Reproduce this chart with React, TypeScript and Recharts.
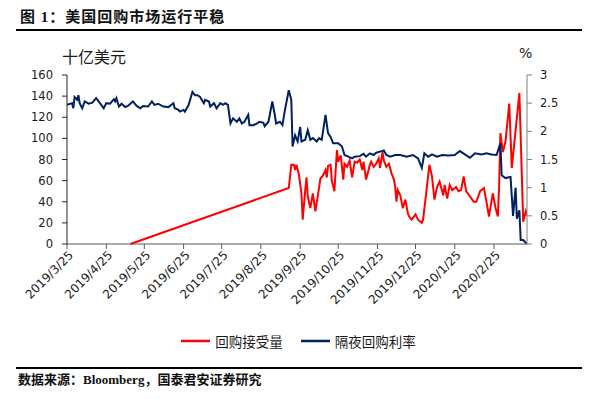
import React from 'react';
import { LineChart, Line, XAxis, YAxis, Legend } from 'recharts';

// x positions are day offsets from 2019/3/25
const xTickDays = [0, 31, 61, 92, 122, 153, 184, 214, 245, 275, 306, 337];
const xTickLabels = ['2019/3/25', '2019/4/25', '2019/5/25', '2019/6/25', '2019/7/25', '2019/8/25', '2019/9/25', '2019/10/25', '2019/11/25', '2019/12/25', '2020/1/25', '2020/2/25'];
const leftTicks = [0, 20, 40, 60, 80, 100, 120, 140, 160];
const rightTicks = [0, 0.5, 1, 1.5, 2, 2.5, 3];
const seriesNames = ['回购接受量', '隔夜回购利率'];
const seriesColors = ['#FF0000', '#002060'];

const blueDays = [0, 4, 5, 6, 8, 9, 10, 12, 14, 17, 20, 23, 26, 29, 31, 34, 37, 38, 39, 41, 43, 46, 48, 52, 55, 58, 60, 64, 67, 69, 72, 76, 80, 84, 85, 88, 89, 92, 93, 96, 99, 101, 103, 105, 108, 109, 112, 113, 116, 118, 121, 123, 125, 127, 129, 131, 134, 136, 138, 140, 143, 144, 147, 150, 152, 155, 156, 159, 162, 164, 165, 168, 170, 172, 175, 177, 178, 180, 182, 184, 185, 188, 190, 192, 194, 197, 199, 201, 204, 206, 208, 210, 214, 217, 219, 222, 225, 227, 231, 234, 236, 239, 242, 244, 247, 250, 252, 255, 259, 263, 268, 273, 277, 280, 282, 285, 288, 292, 296, 301, 306, 310, 314, 318, 322, 327, 331, 335, 339, 342, 343, 346, 350, 352, 354, 355, 357, 358, 360, 363];
const blueRate = [2.47, 2.50, 2.41, 2.61, 2.56, 2.64, 2.50, 2.41, 2.53, 2.49, 2.51, 2.59, 2.50, 2.41, 2.50, 2.49, 2.57, 2.53, 2.59, 2.44, 2.49, 2.43, 2.45, 2.53, 2.45, 2.41, 2.45, 2.44, 2.53, 2.47, 2.49, 2.44, 2.43, 2.50, 2.41, 2.38, 2.35, 2.38, 2.35, 2.47, 2.70, 2.64, 2.64, 2.61, 2.50, 2.56, 2.53, 2.44, 2.50, 2.41, 2.50, 2.47, 2.50, 2.47, 2.14, 2.23, 2.17, 2.23, 2.14, 2.17, 2.29, 2.11, 2.11, 2.14, 2.17, 2.15, 2.09, 2.17, 2.53, 2.29, 2.14, 2.17, 2.11, 2.38, 2.73, 2.56, 1.73, 1.93, 1.82, 2.08, 1.82, 1.85, 2.02, 1.85, 1.88, 1.82, 1.88, 1.85, 2.29, 1.97, 1.90, 1.79, 1.79, 1.73, 1.58, 1.55, 1.52, 1.55, 1.56, 1.60, 1.55, 1.61, 1.58, 1.62, 1.64, 1.66, 1.58, 1.55, 1.58, 1.58, 1.55, 1.58, 1.52, 1.35, 1.61, 1.55, 1.59, 1.55, 1.58, 1.57, 1.58, 1.65, 1.59, 1.53, 1.61, 1.59, 1.61, 1.59, 1.58, 1.79, 1.22, 1.17, 1.19, 0.50, 1.00, 0.45, 0.60, 0.07, 0.07, 0.0];

const redDays = [50, 175, 177, 179, 180, 181, 183, 185, 186, 188, 189, 190, 192, 194, 196, 198, 200, 202, 204, 205, 206, 208, 209, 211, 213, 214, 216, 218, 219, 221, 223, 225, 227, 229, 231, 233, 234, 236, 239, 240, 242, 244, 246, 247, 249, 250, 252, 254, 255, 256, 258, 259, 260, 261, 263, 265, 267, 269, 270, 272, 275, 277, 280, 281, 284, 286, 288, 290, 292, 294, 297, 298, 300, 302, 304, 307, 309, 311, 313, 315, 318, 321, 323, 326, 329, 331, 333, 336, 338, 340, 341, 342, 344, 346, 349, 351, 357, 360, 362, 363];
const redVolume = [0, 53, 75, 75, 70, 75, 66, 48, 23, 51, 63, 45, 34, 48, 31, 46, 62, 65, 70, 63, 74, 75, 60, 50, 89, 78, 84, 61, 76, 73, 79, 63, 78, 77, 80, 70, 78, 61, 75, 78, 73, 76, 81, 72, 87, 79, 73, 76, 72, 67, 61, 54, 40, 51, 46, 34, 42, 29, 26, 23, 28, 23, 20, 23, 54, 75, 64, 42, 54, 59, 46, 56, 43, 56, 51, 54, 50, 51, 64, 50, 45, 40, 40, 50, 53, 40, 26, 48, 35, 26, 55, 105, 87, 97, 133, 72, 143, 21, 31, 27];

const redData = redDays.map((d, i) => ({ day: d, volume: redVolume[i] }));
const blueData = blueDays.map((d, i) => ({ day: d, rate: blueRate[i] }));

const XTick = (props: any) => {
  const { x, y, payload } = props;
  const idx = xTickDays.indexOf(payload.value);
  const ax = x + 4;
  const ay = y + 2;
  return (
    <text x={ax} y={ay} dy="0.35em" transform={`rotate(-45, ${ax}, ${ay})`} textAnchor="end"
      fontSize={12} fontFamily="DejaVu Sans" fill="#1a1a1a">
      {idx >= 0 ? xTickLabels[idx] : ''}
    </text>
  );
};

const renderLegend = () => (
  <div style={{ display: 'flex', justifyContent: 'center', alignItems: 'center', gap: 18, fontFamily: '"Noto Sans CJK SC"', fontSize: 13.5, lineHeight: '18px', color: '#1a1a1a' }}>
    {seriesNames.map((n, i) => (
      <div key={n} style={{ display: 'flex', alignItems: 'center' }}>
        <svg width={29} height={18}><line x1={0} y1={9} x2={29} y2={9} stroke={seriesColors[i]} strokeWidth={2.5} /></svg>
        <span style={{ marginLeft: 5 }}>{n}</span>
      </div>
    ))}
  </div>
);

export default function App() {
  return (
    <div style={{ position: 'absolute', left: 0, top: 0, width: 597, height: 399, background: '#fff', overflow: 'hidden' }}>
      <div style={{ position: 'absolute', left: 20, top: 7, fontFamily: '"Liberation Serif", "Noto Sans CJK SC"', fontWeight: 'bold', fontSize: 15, lineHeight: '20px', letterSpacing: 1, color: '#111', whiteSpace: 'nowrap' }}>
        图 1：美国回购市场运行平稳
      </div>
      <div style={{ position: 'absolute', left: 16, top: 29, width: 566, height: 1.5, background: '#000' }} />
      <div style={{ position: 'absolute', left: 0, top: 0 }}>
        <LineChart width={597} height={399} margin={{ top: 75, right: 0, bottom: 85, left: 0 }}>
          <XAxis dataKey="day" type="number" domain={[0, 363]} ticks={xTickDays} interval={0}
            allowDataOverflow tick={<XTick />} tickSize={5} tickMargin={2} height={70}
            stroke="#595959" />
          <YAxis yAxisId="left" orientation="left" domain={[0, 160]} ticks={leftTicks} interval={0}
            width={67} tickSize={5} tickMargin={9} stroke="#262626"
            tick={{ fontSize: 11.5, fontFamily: 'DejaVu Sans', fill: '#1a1a1a' }} />
          <YAxis yAxisId="right" orientation="right" domain={[0, 3]} ticks={rightTicks} interval={0}
            width={70} tickSize={5} tickMargin={8} stroke="#7f7f7f"
            tickFormatter={(v: number) => String(v)}
            tick={{ fontSize: 11.5, fontFamily: 'DejaVu Sans', fill: '#1a1a1a' }} />
          <Legend verticalAlign="middle" align="center" layout="horizontal" content={renderLegend}
            wrapperStyle={{ top: 332, left: 0, width: 597 }} />
          <Line yAxisId="left" data={redData} dataKey="volume" name={seriesNames[0]} stroke={seriesColors[0]}
            strokeWidth={2} dot={false} isAnimationActive={false} type="linear" />
          <Line yAxisId="right" data={blueData} dataKey="rate" name={seriesNames[1]} stroke={seriesColors[1]}
            strokeWidth={2} dot={false} isAnimationActive={false} type="linear" />
        </LineChart>
      </div>
      <div style={{ position: 'absolute', left: 62, top: 46, fontFamily: '"Noto Sans CJK SC"', fontSize: 16, lineHeight: '20px', color: '#1a1a1a' }}>十亿美元</div>
      <div style={{ position: 'absolute', left: 519, top: 44, fontFamily: 'DejaVu Sans', fontSize: 14, lineHeight: '18px', color: '#1a1a1a' }}>%</div>
      <div style={{ position: 'absolute', left: 16, top: 367, width: 566, height: 1.5, background: '#000' }} />
      <div style={{ position: 'absolute', left: 18, top: 371, fontFamily: '"Liberation Serif", "Noto Sans CJK SC"', fontWeight: 'bold', fontSize: 13, lineHeight: '18px', color: '#111', whiteSpace: 'nowrap' }}>
        数据来源：Bloomberg，国泰君安证券研究
      </div>
    </div>
  );
}
